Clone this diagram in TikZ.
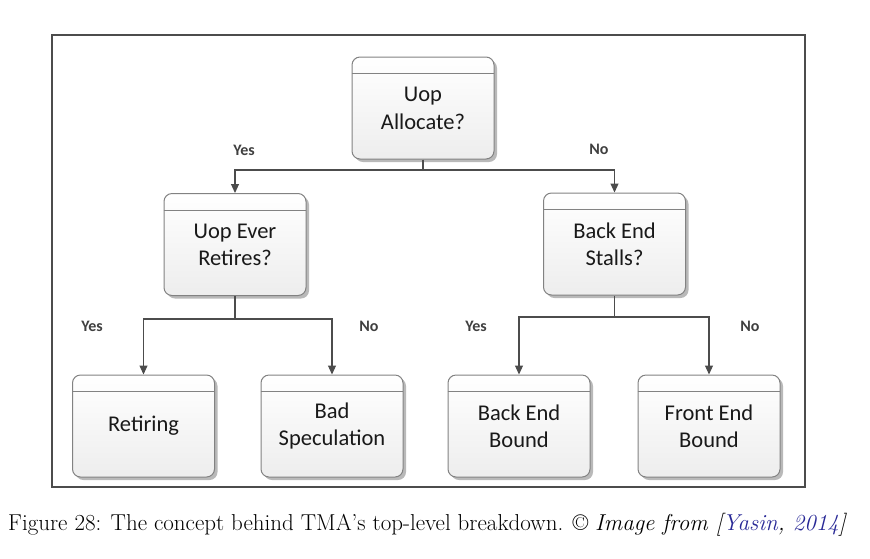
\documentclass[tikz,border=0pt]{standalone}
\usepackage{fontspec}
\newfontfamily\boxfont{Carlito}
\usetikzlibrary{shadows,arrows.meta}
\definecolor{linkblue}{RGB}{40,40,150}
\definecolor{boxtext}{RGB}{25,25,25}
\definecolor{boxline}{RGB}{130,130,130}
\tikzset{
  stepbox/.style={rectangle, rounded corners=8pt, draw=boxline, line width=1pt,
    minimum width=142pt, minimum height=102pt, top color=white, bottom color=gray!14,
    general shadow={shadow xshift=3pt, shadow yshift=-3pt, fill=gray!55, rounded corners=8pt},
    align=center, text=boxtext, font=\boxfont\fontsize{22.5}{27}\selectfont, inner sep=0pt},
  conn/.style={draw=black!70, line width=1.1pt},
  arr/.style={conn, -{Triangle[length=9pt,width=8pt]}},
  lab/.style={text=black!75, font=\boxfont\bfseries\fontsize{16}{18}\selectfont, inner sep=0pt},
}
\begin{document}
\begin{tikzpicture}[x=1pt,y=-1pt]
\useasboundingbox (0,0) rectangle (870,558);
\draw[black!70, line width=1.4pt] (52,35) rectangle (805,487);
\node[stepbox] (top) at (423,108) {Uop\\[1pt]Allocate?};
\node[stepbox] (lm) at (235,244.5) {Uop Ever\\Retires?};
\node[stepbox] (rm) at (614.5,244) {Back End\\Stalls?};
\node[stepbox] (ret) at (143.5,426) {Retiring};
\node[stepbox] (bad) at (332,426) {Bad\\Speculation};
\node[stepbox] (be) at (519,426) {Back End\\Bound};
\node[stepbox] (fe) at (709,426) {Front End\\Bound};
\foreach \n in {top,lm,rm,ret,bad,be,fe}
  \draw[boxline, line width=0.8pt] (\n.north west) ++(0,17) -- ++(142,0);
\coordinate (j1) at (423,170);
\coordinate (j2) at (235,319);
\coordinate (j3) at (614.5,317);
\draw[conn] (top.south) -- (j1);
\draw[arr] (j1) -| (lm.north);
\draw[arr] (j1) -| (rm.north);
\draw[conn] (lm.south) -- (j2);
\draw[arr] (j2) -| (ret.north);
\draw[arr] (j2) -| (bad.north);
\draw[conn] (rm.south) -- (j3);
\draw[arr] (j3) -| (be.north);
\draw[arr] (j3) -| (fe.north);
\node[lab] (y1) at (244,150) {Yes};
\node[lab] (n1) at (599,149) {No};
\node[lab] (y2) at (92,326) {Yes};
\node[lab] (n2) at (369,326) {No};
\node[lab] (y3) at (476,326) {Yes};
\node[lab] (n3) at (750,326) {No};
\node[anchor=base west, inner sep=0pt, font=\fontsize{23}{27}\selectfont] (cap) at (8,530.5)
  {Figure 28: The concept behind TMA's top-level breakdown. \textcopyright{} \textit{Image from [\textcolor{linkblue}{Yasin}, \textcolor{linkblue}{2014}]}};
\end{tikzpicture}
\end{document}
